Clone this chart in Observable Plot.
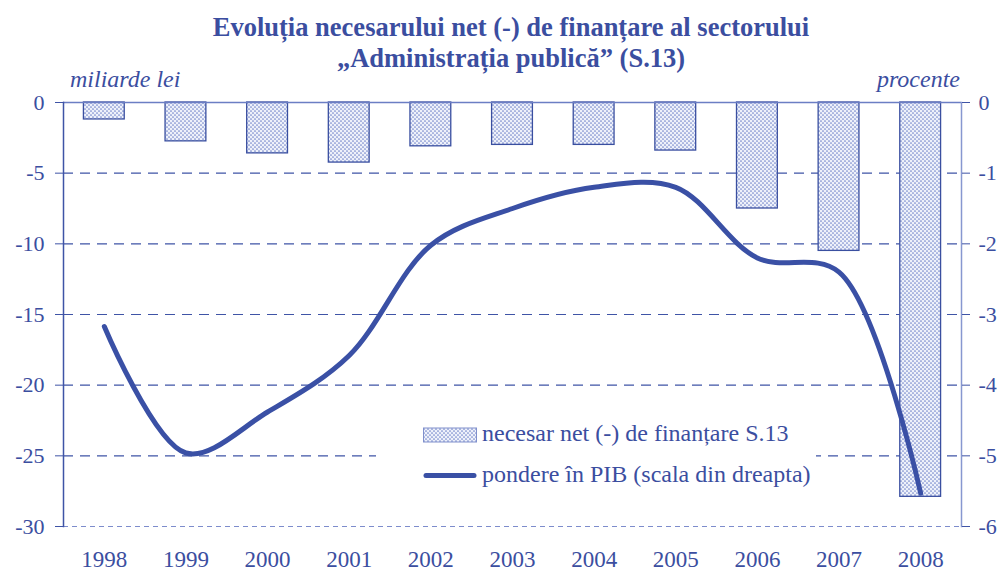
<!DOCTYPE html>
<html>
<head>
<meta charset="utf-8">
<script src="https://cdn.jsdelivr.net/npm/d3@7"></script>
<script src="https://cdn.jsdelivr.net/npm/@observablehq/plot@0.6"></script>
<style>
  html, body { margin: 0; padding: 0; background: #fff; }
  #wrap { position: relative; width: 998px; height: 572px; color: #3b4ea0; }
  #title { position: absolute; left: 0; width: 1022px; top: 12px; text-align: center; font-weight: bold; font-size: 26.5px; line-height: 31px; color: #3b4ea0; }
  .unit { position: absolute; top: 66px; font-style: italic; font-size: 24px; line-height: normal; color: #3b4ea0; }
  #legend { position: absolute; left: 376px; top: 410px; width: 440px; height: 92px; background: #fff; font-size: 24px; }
  .lg { position: absolute; left: 47px; display: flex; align-items: flex-start; white-space: nowrap; line-height: normal; }
  .lg span { margin-left: 5px; }
</style>
</head>
<body>
<div id="wrap" style="font-family:'Liberation Serif'">
  <div id="title" style="font-family:'Liberation Serif'">Evoluția necesarului net (-) de finanțare al sectorului<br>„Administrația publică” (S.13)</div>
  <div class="unit" style="left:70px;font-family:'Liberation Serif'">miliarde lei</div>
  <div class="unit" style="right:38px;font-family:'Liberation Serif'">procente</div>
  <div id="chart"></div>
  <div id="legend" style="font-family:'Liberation Serif'">
    <div class="lg" style="top:10px">
      <svg width="54" height="27"><defs><pattern id="dotsL" width="4" height="4" patternUnits="userSpaceOnUse"><rect width="4" height="4" fill="#eef1fa"/><circle cx="1" cy="1" r="0.85" fill="#7486cb"/><circle cx="3" cy="3" r="0.85" fill="#7486cb"/></pattern></defs><rect x="0.5" y="8" width="53" height="14" fill="url(#dotsL)" stroke="#8090cc" stroke-width="1"/></svg>
      <span style="font-family:'Liberation Serif'">necesar net (-) de finanțare S.13</span>
    </div>
    <div class="lg" style="top:51px">
      <svg width="54" height="27"><line x1="3" y1="14.5" x2="51" y2="14.5" stroke="#3a50a5" stroke-width="5" stroke-linecap="round"/></svg>
      <span style="font-family:'Liberation Serif'">pondere în PIB (scala din dreapta)</span>
    </div>
  </div>
</div>
<script>
const years = ["1998","1999","2000","2001","2002","2003","2004","2005","2006","2007","2008"];
const financing = [-1.2, -2.75, -3.6, -4.25, -3.1, -3.0, -3.0, -3.4, -7.5, -10.5, -27.9];
const shareGDP = [-3.17, -4.96, -4.38, -3.58, -2.02, -1.5, -1.2, -1.2, -2.2, -2.4, -5.53];
const leftTicks = [0, -5, -10, -15, -20, -25, -30];
const rightTicks = [0, -1, -2, -3, -4, -5, -6];

const ratio = 5; // right scale (percent) to left scale (bn lei)
const bars = years.map((y, i) => ({year: y, value: financing[i]}));
const line = years.map((y, i) => ({year: y, value: shareGDP[i] * ratio}));

const blue = "#3b4ea0";
const chart = Plot.plot({
  width: 998,
  height: 572,
  marginTop: 102,
  marginBottom: 46,
  marginLeft: 63,
  marginRight: 37,
  style: {fontSize: "21px", color: blue, background: "transparent"},
  x: {type: "band", domain: years, paddingInner: 0.5, paddingOuter: 0.25, round: false, label: null},
  y: {domain: [-30, 0], label: null},
  marks: [
    Plot.ruleY(leftTicks.filter(d => d < 0 && d > -30), {stroke: "#3f54a6", strokeWidth: 1.2, strokeDasharray: "10,7"}),
    Plot.ruleY([-30], {stroke: "#7d8ccc", strokeWidth: 1.2, strokeDasharray: "5,4"}),
    Plot.barY(bars, {x: "year", y: "value", fill: "url(#dots)", stroke: "#3a4fa0", strokeWidth: 1.3}),
    Plot.ruleY([0], {stroke: "#6b7ec4", strokeWidth: 1.5}),
    Plot.frame({anchor: "left", stroke: "#3f54a6", strokeWidth: 1.5}),
    Plot.frame({anchor: "right", stroke: "#8797d0", strokeWidth: 1.5}),
    Plot.axisY({anchor: "left", ticks: leftTicks, tickSize: 8, tickPadding: 11, tickFormat: d => String(d), stroke: "#3f54a6", fontSize: 22, label: null}),
    Plot.axisY({anchor: "right", ticks: leftTicks, tickSize: 8, tickPadding: 9, tickFormat: d => String(d / ratio), stroke: "#3f54a6", fontSize: 22, label: null}),
    Plot.axisX({tickSize: 0, tickPadding: 24, fontSize: 23, label: null}),
    Plot.line(line, {x: "year", y: "value", stroke: "#3a50a5", strokeWidth: 5, curve: "catmull-rom"})
  ]
});
chart.setAttribute("font-family", "Liberation Serif");
chart.style.fontFamily = "'Liberation Serif'";
d3.select(chart).selectAll("g, text").attr("font-family", "Liberation Serif");
const defs = d3.select(chart).insert("defs", ":first-child");
const pat = defs.append("pattern").attr("id", "dots").attr("width", 4).attr("height", 4).attr("patternUnits", "userSpaceOnUse");
pat.append("rect").attr("width", 4).attr("height", 4).attr("fill", "#eef1fa");
pat.append("circle").attr("cx", 1).attr("cy", 1).attr("r", 0.85).attr("fill", "#7486cb");
pat.append("circle").attr("cx", 3).attr("cy", 3).attr("r", 0.85).attr("fill", "#7486cb");
document.getElementById("chart").appendChild(chart);
</script>
</body>
</html>
